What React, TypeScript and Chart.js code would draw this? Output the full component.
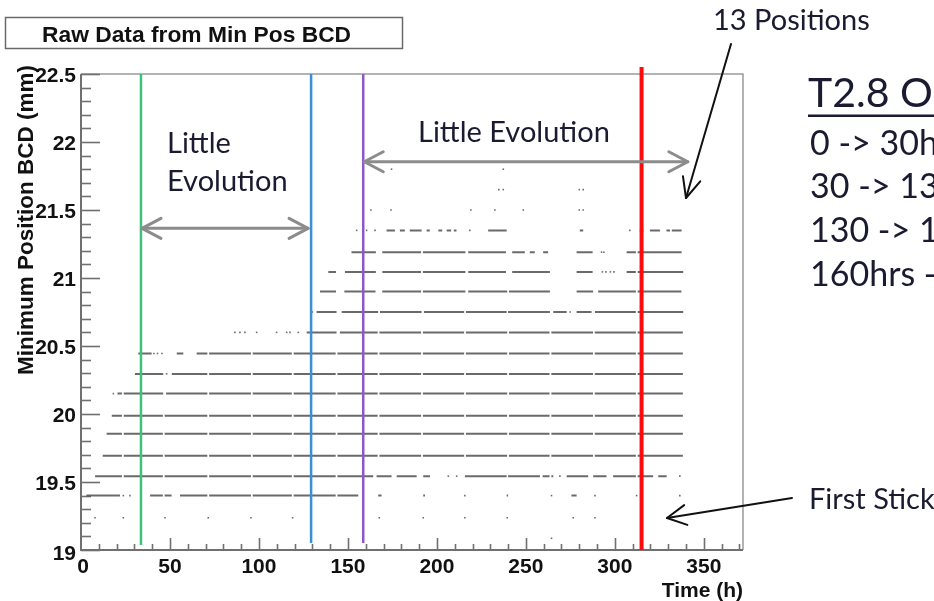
import { useEffect, useRef } from "react";
import { Chart, registerables } from "chart.js";

Chart.register(...registerables);

type Run = [number, number];

// Axis ranges
const X_MIN = 0;
const X_MAX = 372;
const Y_MIN = 19;
const Y_MAX = 22.5;

// Tick labels
const xTickValues = [0, 50, 100, 150, 200, 250, 300, 350];
const xTickLabels = ["0", "50", "100", "150", "200", "250", "300", "350"];
const yTickValues = [19, 19.5, 20, 20.5, 21, 21.5, 22, 22.5];
const yTickLabels = ["19", "19.5", "20", "20.5", "21", "21.5", "22", "22.5"];

// Short periodic drop-outs (h) that break every continuous track
const dailyGaps = [23.5, 46.5, 71.5, 96, 119, 143.6, 167.2, 191.6, 215.8, 240, 263.8, 288.2, 312.3];

// Recorded minimum positions (mm): continuous runs [from h, to h] and isolated readings (h)
const runs2180: Run[] = [];
const dots2180 = [174.5, 237.3];

const runs2165: Run[] = [];
const dots2165 = [234.8, 237.3, 280, 282.2];

const runs2150: Run[] = [];
const dots2150 = [162.9, 174.2, 219.1, 232.6, 248.5, 280, 282.2];

const runs2135: Run[] = [
  [171.7, 176.4], [179.2, 182], [184.8, 191.4], [194.2, 196], [200.8, 203], [205.5, 208],
  [209.5, 211], [228.8, 239.2], [280.3, 282.2], [314, 316], [319.7, 325.3], [329, 331], [332, 337.5],
];
const dots2135 = [154.9, 160.5, 165.2, 218.5, 308.4];

const runs2119: Run[] = [
  [152, 165.7], [169.3, 216], [217.6, 238.8], [242.3, 249.4], [252.2, 255], [259.7, 262.5],
  [278.5, 287.5], [306.6, 337.5],
];
const dots2119 = [292.5, 293.8];

const runs2104: Run[] = [
  [139, 143.3], [148.3, 165.7], [169.3, 216], [217.6, 238.8], [242.3, 263.5], [278.5, 287.5], [306.6, 338.4],
];
const dots2104 = [293, 295, 297.5, 299.5];

const runs2090: Run[] = [
  [134.3, 143.3], [148, 165.5], [169.3, 216], [217.6, 263.5], [278.5, 287.8], [290.6, 337.4],
];
const dots2090: number[] = [];

const runs2075: Run[] = [
  [132.4, 143.6], [146.5, 167], [168, 191.4], [192.7, 239.2], [240, 263.5], [265.4, 272.9],
  [278.5, 286.9], [288.8, 338.4],
];
const dots2075 = [130, 274.9];

const runs2060: Run[] = [[126.8, 143.6], [145.5, 338.2]];
const dots2060 = [86.5, 89.3, 92.1, 98.7, 109.9, 115.6, 117.4, 122.1];

const runs2044: Run[] = [[32.2, 39.7], [53.8, 57.5], [65, 338.2]];
const dots2044 = [41, 43, 45.5];

const runs2030: Run[] = [[30.3, 46.2], [51, 338.2]];
const dots2030 = [48.1];

const runs2015: Run[] = [[20.5, 46.2], [47.8, 338.2]];
const dots2015 = [18.2];

const runs1999: Run[] = [[17.3, 338.2]];
const dots1999: number[] = [];

const runs1986: Run[] = [[14.4, 338.2]];
const dots1986: number[] = [];

const runs1969: Run[] = [[12.2, 338.2]];
const dots1969: number[] = [];

const runs1954: Run[] = [
  [7.9, 164.2], [166.1, 174.5], [177.4, 188.6], [192.3, 196.1], [215.7, 239.2], [240, 257.9],
  [259.4, 265.4], [272.9, 285], [287.8, 295.3], [299, 321.5], [324.4, 329.1],
];
const dots1954 = [206.4, 211.1, 269.1, 336.5];

const runs1940: Run[] = [
  [3, 21.9], [38.8, 50.9], [55.6, 155.8], [167, 168.9], [192.3, 193.3], [239.2, 240], [275.6, 278.5],
];
const dots1940 = [23.8, 27.5, 215.7, 264.4, 288.8, 312.2, 336.5];

const runs1924: Run[] = [];
const dots1924 = [7.9, 23.8, 47.2, 71.5, 95.5, 118.9, 167.6, 192.3, 215.7, 239.5, 276.6, 288.8];

const runs1909: Run[] = [];
const dots1909 = [264.4];

const tracks = [
  { mm: 21.8, runs: runs2180, dots: dots2180 },
  { mm: 21.65, runs: runs2165, dots: dots2165 },
  { mm: 21.5, runs: runs2150, dots: dots2150 },
  { mm: 21.35, runs: runs2135, dots: dots2135 },
  { mm: 21.19, runs: runs2119, dots: dots2119 },
  { mm: 21.045, runs: runs2104, dots: dots2104 },
  { mm: 20.9, runs: runs2090, dots: dots2090 },
  { mm: 20.75, runs: runs2075, dots: dots2075 },
  { mm: 20.6, runs: runs2060, dots: dots2060 },
  { mm: 20.445, runs: runs2044, dots: dots2044 },
  { mm: 20.295, runs: runs2030, dots: dots2030 },
  { mm: 20.15, runs: runs2015, dots: dots2015 },
  { mm: 19.987, runs: runs1999, dots: dots1999 },
  { mm: 19.855, runs: runs1986, dots: dots1986 },
  { mm: 19.693, runs: runs1969, dots: dots1969 },
  { mm: 19.543, runs: runs1954, dots: dots1954 },
  { mm: 19.4, runs: runs1940, dots: dots1940 },
  { mm: 19.237, runs: runs1924, dots: dots1924 },
  { mm: 19.086, runs: runs1909, dots: dots1909 },
];

// Phase markers (h)
const markerHours = [33.7, 129.3, 158.6, 315];
const markerColors = ["#3cc37a", "#3b8fd6", "#8c58c6", "#ff0a0a"];
const markerWidths = [2.5, 2.5, 2.5, 4];
const markerTop = [22.5, 22.5, 22.5, 22.552];
const markerBottom = [19.037, 19.051, 19.051, 19.0];

// Range arrows: [from h, to h, at mm]
const lowRange: [number, number, number] = [33.7, 127.6, 21.365];
const highRange: [number, number, number] = [158.6, 341, 21.855];

const GAP_HALF = 0.5;
const TRACK_COLOR = "rgba(80,80,80,0.85)";
const AXIS_FONT = '"Liberation Sans", Arial, sans-serif';
const NOTE_FONT = 'Lato, "Open Sans", sans-serif';
const NOTE_COLOR = "#1a1a30";

function splitRun(run: Run): Run[] {
  const out: Run[] = [];
  let start = run[0];
  for (const g of dailyGaps) {
    if (g - GAP_HALF > start + 0.8 && g + GAP_HALF < run[1] - 0.8) {
      out.push([start, g - GAP_HALF]);
      start = g + GAP_HALF;
    }
  }
  out.push([start, run[1]]);
  return out;
}

function buildDatasets() {
  const sets: any[] = [];
  markerHours.forEach((h, i) => {
    sets.push({
      data: [
        { x: h, y: markerBottom[i] },
        { x: h, y: markerTop[i] },
      ],
      borderColor: markerColors[i],
      borderWidth: markerWidths[i],
      pointRadius: 0,
      clip: false,
      order: 0,
    });
  });
  const dotPoints: { x: number; y: number }[] = [];
  tracks.forEach((t) => {
    const pts: { x: number; y: number | null }[] = [];
    t.runs.forEach((r) => {
      splitRun(r).forEach(([a, b]) => {
        pts.push({ x: a, y: t.mm }, { x: b, y: t.mm }, { x: b, y: null });
      });
    });
    if (pts.length) {
      sets.push({
        data: pts,
        borderColor: TRACK_COLOR,
        borderWidth: 2,
        borderCapStyle: "butt",
        pointRadius: 0,
        spanGaps: false,
        tension: 0,
        order: 2,
      });
    }
    t.dots.forEach((h) => dotPoints.push({ x: h, y: t.mm }));
  });
  sets.push({
    data: dotPoints,
    showLine: false,
    pointStyle: "rect",
    pointRadius: 1.1,
    pointBackgroundColor: TRACK_COLOR,
    pointBorderWidth: 0,
    order: 2,
  });
  return sets;
}

function arrowHead(ctx: CanvasRenderingContext2D, tipX: number, tipY: number, fromX: number, fromY: number, len: number, half: number) {
  const dx = tipX - fromX;
  const dy = tipY - fromY;
  const d = Math.hypot(dx, dy);
  const ux = dx / d;
  const uy = dy / d;
  const bx = tipX - ux * len;
  const by = tipY - uy * len;
  ctx.beginPath();
  ctx.moveTo(bx - uy * half, by + ux * half);
  ctx.lineTo(tipX, tipY);
  ctx.lineTo(bx + uy * half, by - ux * half);
  ctx.stroke();
}

const framePlugin = {
  id: "rootFrame",
  beforeDatasetsDraw(chart: any) {
    const { ctx, chartArea, scales } = chart;
    const xs = scales.x;
    const ys = scales.y;
    const { left, right, top, bottom } = chartArea;
    ctx.save();
    // frame
    ctx.strokeStyle = "#9a9a9a";
    ctx.lineWidth = 1.5;
    ctx.beginPath();
    ctx.moveTo(left, top);
    ctx.lineTo(right, top);
    ctx.lineTo(right, bottom);
    ctx.stroke();
    ctx.strokeStyle = "#707070";
    ctx.lineWidth = 2;
    ctx.beginPath();
    ctx.moveTo(left, top);
    ctx.lineTo(left, bottom);
    ctx.lineTo(right, bottom);
    ctx.stroke();
    // y ticks
    ctx.lineWidth = 1.6;
    for (let i = 0; i <= 35; i++) {
      const v = Y_MIN + i * 0.1;
      const y = Math.round(ys.getPixelForValue(v)) + 0.5;
      const major = i % 5 === 0;
      ctx.beginPath();
      ctx.moveTo(left, y);
      ctx.lineTo(left + (major ? 19 : 10), y);
      ctx.stroke();
    }
    // x ticks
    for (let v = 10; v <= 370; v += 10) {
      const x = Math.round(xs.getPixelForValue(v)) + 0.5;
      const major = v % 50 === 0;
      ctx.beginPath();
      ctx.moveTo(x, bottom);
      ctx.lineTo(x, bottom - (major ? 12 : 6));
      ctx.stroke();
    }
    // tick labels
    ctx.fillStyle = "#111";
    ctx.font = `bold 21px ${AXIS_FONT}`;
    ctx.textAlign = "right";
    ctx.textBaseline = "alphabetic";
    yTickValues.forEach((v, i) => {
      const y = ys.getPixelForValue(v);
      ctx.fillText(yTickLabels[i], left - 5, y + (i === 0 ? 10 : 7.5));
    });
    ctx.textAlign = "center";
    xTickValues.forEach((v, i) => {
      const x = xs.getPixelForValue(v);
      ctx.fillText(xTickLabels[i], x + (i === 0 ? 2 : 0), bottom + 23);
    });
    // axis titles
    ctx.textAlign = "right";
    ctx.fillText("Time (h)", right, bottom + 47);
    ctx.save();
    ctx.translate(33, top - 9);
    ctx.rotate(-Math.PI / 2);
    ctx.textAlign = "right";
    ctx.font = `bold 22.5px ${AXIS_FONT}`;
    ctx.fillText("Minimum Position BCD (mm)", 0, 0);
    ctx.restore();
    // title box
    ctx.strokeStyle = "#6a6a6a";
    ctx.lineWidth = 1.5;
    ctx.strokeRect(5.5, 17.5, 397, 31);
    ctx.font = `bold 22.8px ${AXIS_FONT}`;
    ctx.textAlign = "left";
    ctx.fillText("Raw Data from Min Pos BCD", 42, 41.5);
    ctx.restore();
  },
  afterDraw(chart: any) {
    const { ctx, scales } = chart;
    const xs = scales.x;
    const ys = scales.y;
    ctx.save();
    // grey range arrows
    ctx.strokeStyle = "#8c8c8c";
    ctx.lineWidth = 3;
    ctx.lineCap = "round";
    ctx.lineJoin = "round";
    [lowRange, highRange].forEach(([a, b, mm]) => {
      const x1 = xs.getPixelForValue(a) + 1;
      const x2 = xs.getPixelForValue(b);
      const y = ys.getPixelForValue(mm);
      ctx.beginPath();
      ctx.moveTo(x1, y);
      ctx.lineTo(x2, y);
      ctx.stroke();
      arrowHead(ctx, x1, y, x2, y, 19, 10);
      arrowHead(ctx, x2, y, x1, y, 19, 10);
    });
    // black pointer arrows
    ctx.strokeStyle = "#111";
    ctx.lineWidth = 2;
    ctx.beginPath();
    ctx.moveTo(731, 44);
    ctx.lineTo(686, 198);
    ctx.stroke();
    arrowHead(ctx, 686, 198, 731, 44, 20, 9);
    ctx.beginPath();
    ctx.moveTo(792, 498);
    ctx.lineTo(667, 518);
    ctx.stroke();
    arrowHead(ctx, 667, 518, 792, 498, 19, 10);
    // notes
    ctx.fillStyle = NOTE_COLOR;
    ctx.textAlign = "left";
    ctx.textBaseline = "alphabetic";
    ctx.font = `29px ${NOTE_FONT}`;
    ctx.fillText("Little", 167, 153);
    ctx.fillText("Evolution", 167, 191);
    ctx.fillText("Little Evolution", 418, 142);
    ctx.fillText("13 Positions", 713, 30);
    ctx.fillText("First Stick", 809, 509);
    ctx.font = `41px ${NOTE_FONT}`;
    ctx.fillText("T2.8 Operation", 808, 107);
    ctx.fillRect(808, 114.5, 200, 2.5);
    ctx.font = `34px ${NOTE_FONT}`;
    ctx.fillText("0 -> 30hrs", 810, 155);
    ctx.fillText("30 -> 130hrs", 810, 198);
    ctx.fillText("130 -> 160hrs", 810, 242);
    ctx.fillText("160hrs -> 340hrs", 810, 286);
    ctx.restore();
  },
};

export default function App() {
  const canvasRef = useRef<HTMLCanvasElement | null>(null);

  useEffect(() => {
    let chart: Chart | null = null;
    let cancelled = false;
    const fontsReady = Promise.all([
      document.fonts.load(`29px Lato`),
      document.fonts.load(`bold 21px "Liberation Sans"`),
    ]).catch(() => undefined);
    fontsReady.then(() => {
      if (cancelled || !canvasRef.current) return;
      chart = new Chart(canvasRef.current, {
        type: "line",
        data: { datasets: buildDatasets() },
        options: {
          responsive: false,
          animation: false,
          events: [],
          layout: { padding: { left: 81, top: 74, right: 191, bottom: 51 } },
          plugins: { legend: { display: false }, tooltip: { enabled: false } },
          scales: {
            x: { type: "linear", min: X_MIN, max: X_MAX, display: false },
            y: { type: "linear", min: Y_MIN, max: Y_MAX, display: false },
          },
        },
        plugins: [framePlugin],
      });
    });
    return () => {
      cancelled = true;
      if (chart) chart.destroy();
    };
  }, []);

  return (
    <div style={{ position: "fixed", left: 0, top: 0, width: 934, height: 601, background: "#fff" }}>
      <canvas ref={canvasRef} width={934} height={601} style={{ display: "block" }} />
    </div>
  );
}
